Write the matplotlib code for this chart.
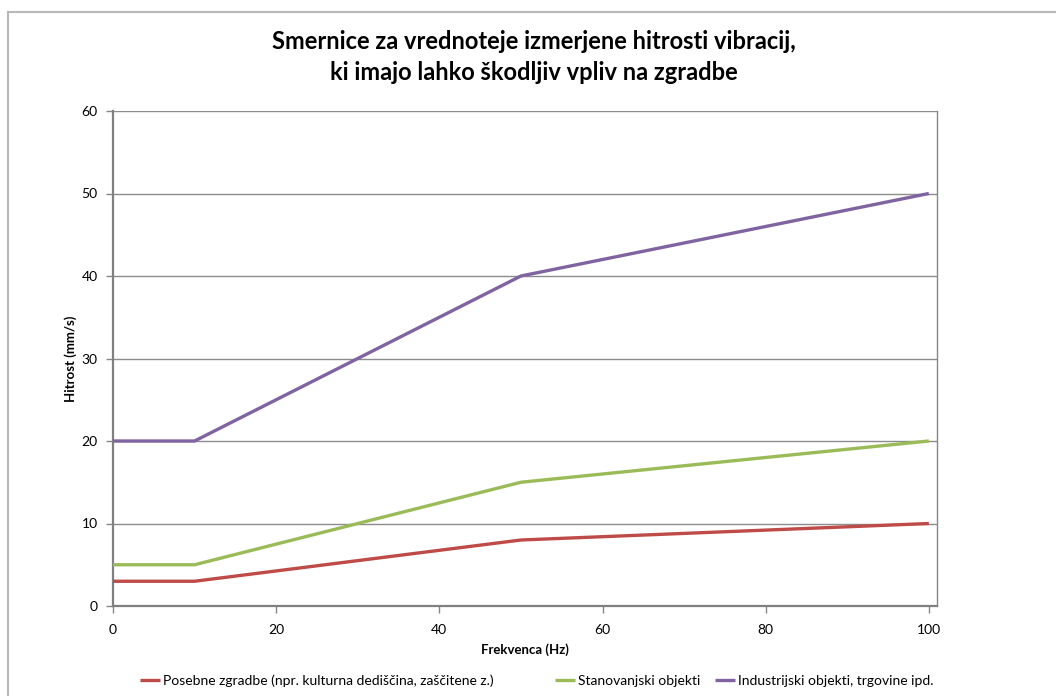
import matplotlib
matplotlib.use("Agg")
import matplotlib.pyplot as plt
from matplotlib.lines import Line2D

# Guideline values for vibration velocity (frequency breakpoints in Hz)
freq = [0, 10, 50, 100]
posebne = [3, 3, 8, 10]
stanovanjski = [5, 5, 15, 20]
industrijski = [20, 20, 40, 50]

series_labels = [
    "Posebne zgradbe (npr. kulturna dediščina, zaščitene z.)",
    "Stanovanjski objekti",
    "Industrijski objekti, trgovine ipd.",
]
x_ticks = [0, 20, 40, 60, 80, 100]
y_ticks = [0, 10, 20, 30, 40, 50, 60]

title = "Smernice za vrednoteje izmerjene hitrosti vibracij,\nki imajo lahko škodljiv vpliv na zgradbe"
x_label = "Frekvenca (Hz)"
y_label = "Hitrost (mm/s)"

FONT = ["Lato", "DejaVu Sans"]
plt.rcParams["font.family"] = FONT

W, H = 1056, 696
fig = plt.figure(figsize=(W / 100, H / 100), dpi=100)
fig.patch.set_facecolor("white")

# chart area outline (top and left edges)
fig.add_artist(Line2D([8 / W, 8 / W], [0, 1 - 12 / H], transform=fig.transFigure,
                      color="#b8b8b8", lw=1.5))
fig.add_artist(Line2D([8 / W, 1], [1 - 12 / H, 1 - 12 / H], transform=fig.transFigure,
                      color="#b8b8b8", lw=1.5))

left, right = 113 / W, 937 / W
top, bottom = 1 - 111 / H, 1 - 606 / H
ax = fig.add_axes([left, bottom, right - left, top - bottom])

colors = ["#BE4B48", "#9BBB59", "#8064A2"]
handles = []
for vals, lab, c in zip([posebne, stanovanjski, industrijski], series_labels, colors):
    h, = ax.plot(freq, vals, color=c, lw=2.4, label=lab, solid_capstyle="butt", zorder=3)
    handles.append(h)

ax.set_xlim(0, 101)
ax.set_ylim(0, 60)
ax.set_xticks(x_ticks)
ax.set_yticks(y_ticks)
ax.grid(axis="y", color="#8c8c8c", lw=1.0)
ax.set_axisbelow(True)

for s in ["left", "bottom"]:
    ax.spines[s].set_color("#808080")
    ax.spines[s].set_linewidth(1.6)
ax.spines["right"].set_color("#868686")
ax.spines["right"].set_linewidth(1.0)
ax.spines["top"].set_visible(False)

ax.tick_params(axis="both", direction="out", length=5, width=1, color="#868686",
               labelsize=10, labelcolor="#000000")
ax.tick_params(axis="x", pad=8)
ax.tick_params(axis="y", pad=6)

ax.set_xlabel(x_label, fontsize=9.5, fontweight="bold", labelpad=5)
ax.set_ylabel(y_label, fontsize=9.5, fontweight="bold", labelpad=3)

fig.text(534 / W, 1 - 57 / H, title, ha="center", va="center", fontsize=17,
         fontweight="bold", linespacing=1.4)

# legend entries laid out in a single row along the bottom
legend_x = [140, 555, 715]
for h, x in zip(handles, legend_x):
    lg = fig.legend([h], [h.get_label()], loc="center left",
                    bbox_to_anchor=(x / W, 1 - 681 / H), frameon=False,
                    fontsize=10, handlelength=1.45, handletextpad=0.2,
                    borderpad=0, borderaxespad=0)

fig.savefig("out.png", dpi=100, facecolor="white")
